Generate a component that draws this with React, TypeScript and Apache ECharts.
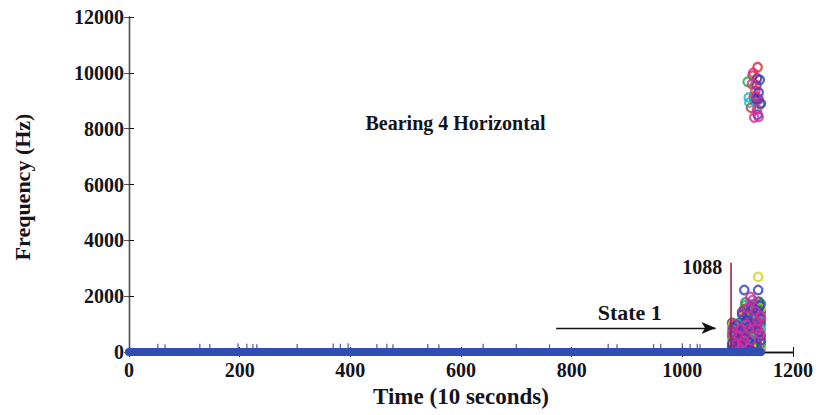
import React, { useEffect, useRef } from "react";
import * as echarts from "echarts";

// Axis ranges and ticks
const timeTicks = [0, 200, 400, 600, 800, 1000, 1200];
const freqTicks = [0, 2000, 4000, 6000, 8000, 10000, 12000];

// Baseline trace at 0 Hz across the recording
const baselineTrace: [number, number][] = [
  [0, 0],
  [1142, 0],
];

// Small low-frequency components along the baseline
const lowComponents: [number, number][] = [
  [52, 170], [65, 150], [128, 170], [146, 160], [197, 190], [213, 170],
  [224, 160], [231, 150], [304, 160], [369, 180], [382, 170], [396, 190],
  [448, 160], [466, 170], [477, 150], [540, 160], [560, 150], [640, 170],
  [700, 160], [760, 150], [866, 170], [882, 150], [948, 160], [961, 170],
  [1000, 190], [1014, 160], [1027, 170], [1032, 150],
];

// Change point
const stateChangeTime = 1088;
const stateChangeTop = 3200;

// Frequency components after the change point, one list per trace colour
const redPts: [number, number][] = [
  [1092, 60], [1100, 380], [1108, 720], [1116, 150], [1124, 980], [1132, 460],
  [1140, 1320], [1096, 900], [1112, 1540], [1128, 1200], [1136, 240], [1120, 620],
  [1104, 1000], [1090, 200], [1098, 540], [1106, 860], [1114, 300], [1122, 160],
  [1130, 760], [1138, 560], [1118, 1260],
  [1136, 10200], [1127, 9900], [1132, 9350], [1124, 8750], [1129, 9150],
];
const orangePts: [number, number][] = [
  [1094, 240], [1102, 560], [1110, 90], [1118, 830], [1126, 340], [1134, 700],
  [1142, 120], [1098, 820], [1114, 1380], [1130, 1620], [1138, 980], [1106, 430],
  [1090, 900], [1096, 60], [1104, 680], [1112, 480], [1120, 200], [1128, 1000],
  [1136, 1480], [1142, 760],
  [1131, 9450],
];
const yellowPts: [number, number][] = [
  [1090, 480], [1100, 140], [1108, 920], [1116, 420], [1124, 240], [1132, 1060],
  [1140, 380], [1120, 1480], [1137, 2690], [1096, 640], [1128, 780],
  [1092, 1000], [1098, 380], [1104, 260], [1112, 1100], [1120, 700], [1136, 840],
  [1142, 1560], [1126, 1420],
];
const greenPts: [number, number][] = [
  [1092, 720], [1100, 1020], [1106, 300], [1114, 1680], [1122, 520], [1130, 160],
  [1138, 1520], [1098, 200], [1112, 880], [1126, 1260], [1134, 600],
  [1090, 560], [1096, 480], [1104, 940], [1110, 120], [1118, 400], [1126, 880],
  [1134, 1160], [1142, 300],
  [1118, 9680], [1130, 9020], [1140, 8880],
];
const cyanPts: [number, number][] = [
  [1094, 560], [1102, 260], [1110, 1180], [1118, 40], [1126, 700], [1134, 1380],
  [1142, 820], [1098, 40], [1114, 960], [1122, 1720], [1130, 480],
  [1090, 780], [1096, 920], [1106, 600], [1114, 220], [1120, 1360], [1128, 1100],
  [1136, 560], [1140, 1300],
  [1120, 9120], [1121, 8930],
];
const bluePts: [number, number][] = [
  [1090, 300], [1098, 960], [1106, 160], [1112, 2220], [1137, 2220], [1116, 1120],
  [1124, 60], [1132, 880], [1140, 1660], [1104, 760], [1120, 360], [1128, 1560],
  [1094, 680], [1100, 460], [1108, 1340], [1114, 520], [1122, 940], [1130, 260],
  [1136, 1460], [1142, 420],
  [1140, 9750], [1138, 9300], [1142, 8900], [1136, 8500], [1134, 9050],
];
const purplePts: [number, number][] = [
  [1092, 860], [1102, 700], [1110, 520], [1118, 1320], [1126, 920], [1134, 200],
  [1142, 1180], [1096, 120], [1108, 1440], [1124, 1640], [1138, 740],
  [1090, 40], [1098, 280], [1104, 380], [1112, 760], [1120, 100], [1130, 1300],
  [1136, 1020], [1142, 580],
  [1134, 9550], [1138, 9050],
];
const magentaPts: [number, number][] = [
  [1094, 1000], [1100, 600], [1108, 280], [1116, 980], [1123, 1970], [1127, 1860],
  [1132, 1460], [1140, 640], [1104, 100], [1120, 820], [1136, 1100],
  [1090, 660], [1096, 260], [1106, 820], [1112, 380], [1118, 1560], [1124, 420],
  [1134, 860], [1142, 1280],
  [1126, 9600], [1130, 8400], [1138, 8420], [1133, 9150], [1128, 10000], [1135, 8700],
];
const darkPts: [number, number][] = [
  [1092, 420], [1100, 860], [1110, 380], [1118, 600], [1126, 1120], [1134, 380],
  [1142, 1460], [1106, 1060], [1122, 1540], [1138, 1800],
  [1090, 1040], [1096, 560], [1104, 200], [1114, 60], [1120, 1200], [1130, 620],
  [1136, 40], [1140, 1040],
  [1135, 9800],
];
const tealPts: [number, number][] = [
  [1096, 340], [1104, 520], [1112, 620], [1120, 1040], [1128, 300], [1136, 1640],
  [1142, 1000], [1114, 1780], [1130, 1700],
  [1090, 120], [1100, 740], [1108, 40], [1116, 1440], [1124, 840], [1132, 280],
  [1138, 1200], [1142, 1720],
];

const traceSets: { color: string; pts: [number, number][] }[] = [
  { color: "#3a3a44", pts: darkPts },
  { color: "#0f7f5f", pts: tealPts },
  { color: "#e3202c", pts: redPts },
  { color: "#f08a1c", pts: orangePts },
  { color: "#d9cf1f", pts: yellowPts },
  { color: "#1fa83a", pts: greenPts },
  { color: "#19b9c9", pts: cyanPts },
  { color: "#2a3ac8", pts: bluePts },
  { color: "#7a2aa8", pts: purplePts },
  { color: "#d42a9a", pts: magentaPts },
];

// Annotations
const titleText = "Bearing 4 Horizontal";
const titleAt: [number, number] = [590, 8200];
const stateText = "State 1";
const stateAt: [number, number] = [905, 1400];
const arrowFrom: [number, number] = [772, 860];
const arrowTo: [number, number] = [1060, 860];
const changeLabelAt: [number, number] = [1072, 3050];

const serif = "'Liberation Serif', 'Times New Roman', serif";
const ink = "#14141c";

export default function App() {
  const ref = useRef<HTMLDivElement>(null);

  useEffect(() => {
    if (!ref.current) return;
    const chart = echarts.init(ref.current, undefined, { renderer: "svg" });

    const tickLabel = {
      fontFamily: serif,
      fontWeight: "bold" as const,
      fontSize: 20,
      color: ink,
    };

    const scatterSeries = traceSets.map((t) => ({
      type: "scatter" as const,
      data: t.pts,
      symbol: "circle",
      symbolSize: 8.5,
      itemStyle: { color: "transparent", borderColor: t.color, borderWidth: 2.2 },
      z: 4,
      silent: true,
    }));

    chart.setOption({
      animation: false,
      backgroundColor: "#ffffff",
      grid: { left: 129, right: 26, top: 17, bottom: 63 },
      xAxis: [
        {
          type: "value",
          min: 0,
          max: 1200,
          interval: 200,
          position: "bottom",
          axisLine: { show: true, lineStyle: { color: "#111", width: 1.3 } },
          axisTick: { show: true, inside: true, length: 5, lineStyle: { color: "#111" } },
          axisLabel: { ...tickLabel, margin: 8, formatter: (v: number) => (timeTicks.includes(v) ? String(v) : "") },
          splitLine: { show: false },
        },
        {
          type: "value",
          min: 0,
          max: 1200,
          interval: 200,
          position: "top",
          axisLine: { show: true, lineStyle: { color: "#111", width: 1.3 } },
          axisTick: { show: true, inside: true, length: 5, lineStyle: { color: "#111" } },
          axisLabel: { show: false },
          splitLine: { show: false },
        },
      ],
      yAxis: [
        {
          type: "value",
          min: 0,
          max: 12000,
          interval: 2000,
          position: "left",
          axisLine: { show: true, lineStyle: { color: "#111", width: 1.3 } },
          axisTick: { show: true, inside: true, length: 5, lineStyle: { color: "#111" } },
          axisLabel: { ...tickLabel, margin: 5, formatter: (v: number) => (freqTicks.includes(v) ? String(v) : "") },
          splitLine: { show: false },
        },
        {
          type: "value",
          min: 0,
          max: 12000,
          interval: 2000,
          position: "right",
          axisLine: { show: true, lineStyle: { color: "#555", width: 1.3 } },
          axisTick: { show: true, inside: true, length: 5, lineStyle: { color: "#555" } },
          axisLabel: { show: false },
          splitLine: { show: false },
        },
      ],
      series: [
        {
          type: "scatter",
          data: lowComponents,
          symbol: "rect",
          symbolSize: [1.3, 7],
          itemStyle: { color: "#2b3f9e" },
          z: 2,
          silent: true,
        },
        ...scatterSeries,
        {
          type: "line",
          data: [
            [stateChangeTime, 0],
            [stateChangeTime, stateChangeTop],
          ],
          showSymbol: false,
          lineStyle: { color: "#a3243a", width: 1.6 },
          z: 5,
          silent: true,
        },
        {
          type: "line",
          data: baselineTrace,
          showSymbol: false,
          clip: false,
          lineStyle: { color: "#2f4db5", width: 8, cap: "round" },
          z: 6,
          silent: true,
          markLine: {
            silent: true,
            symbol: ["none", "arrow"],
            symbolSize: [9, 14],
            label: { show: false },
            lineStyle: { color: "#111", width: 1.3, type: "solid" },
            data: [[{ coord: arrowFrom }, { coord: arrowTo }]],
          },
        },
      ],
    });

    // Text annotations placed at data coordinates
    const px = (p: [number, number]) => chart.convertToPixel({ gridIndex: 0 }, p) as number[];
    const tAt = px(titleAt);
    const sAt = px(stateAt);
    const cAt = px(changeLabelAt);
    const text = (
      x: number,
      y: number,
      s: string,
      size: number,
      align: "left" | "center" | "right",
      rotation = 0
    ) => ({
      type: "text",
      x,
      y,
      rotation,
      z: 20,
      style: {
        text: s,
        font: `bold ${size}px ${serif}`,
        fill: ink,
        textAlign: align,
        textVerticalAlign: "middle",
      },
    });

    chart.setOption({
      graphic: [
        text(tAt[0], tAt[1], titleText, 20, "center"),
        text(sAt[0], sAt[1], stateText, 22, "center"),
        text(cAt[0], cAt[1], String(stateChangeTime), 20, "right"),
        text(22, 187, "Frequency (Hz)", 22, "center", Math.PI / 2),
        text(461, 396, "Time (10 seconds)", 23, "center"),
      ],
    });

    return () => chart.dispose();
  }, []);

  return <div ref={ref} style={{ width: 819, height: 415, position: "absolute", left: 0, top: 0 }} />;
}
